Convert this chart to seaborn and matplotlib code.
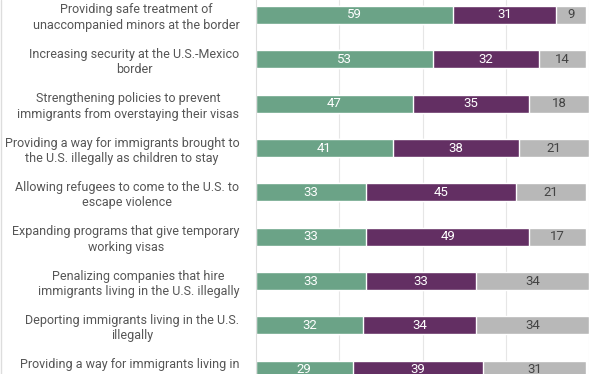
# stacked horizontal bars of immigration policy priorities, drawn with seaborn
import matplotlib
matplotlib.use("Agg")
import matplotlib.pyplot as plt
from matplotlib.lines import Line2D
import seaborn as sns
import pandas as pd

policies = [
    "Providing safe treatment of\nunaccompanied minors at the border",
    "Increasing security at the U.S.-Mexico\nborder",
    "Strengthening policies to prevent\nimmigrants from overstaying their visas",
    "Providing a way for immigrants brought to\nthe U.S. illegally as children to stay",
    "Allowing refugees to come to the U.S. to\nescape violence",
    "Expanding programs that give temporary\nworking visas",
    "Penalizing companies that hire\nimmigrants living in the U.S. illegally",
    "Deporting immigrants living in the U.S.\nillegally",
    "Providing a way for immigrants living in\nthe U.S. illegally to stay legally",
]
first = [59, 53, 47, 41, 33, 33, 33, 32, 29]
second = [31, 32, 35, 38, 45, 49, 33, 34, 39]
third = [9, 14, 18, 21, 21, 17, 34, 34, 31]

green = "#6ba387"
purple = "#632f63"
grey = "#b8b8b8"

df = pd.DataFrame({"policy": policies, "a": first, "b": second, "c": third})
df["ab"] = df["a"] + df["b"]
df["abc"] = df["ab"] + df["c"]

sns.set_style("white")
plt.rcParams["font.family"] = ["Roboto", "DejaVu Sans"]

fig = plt.figure(figsize=(6.12, 3.74), dpi=100)
ax = fig.add_axes([256 / 612, 0, 333.3 / 612, 1])

# overlapping cumulative bars give the stacked look
bh = 0.406
sns.barplot(x="abc", y="policy", data=df, orient="h", color=grey, width=bh,
            saturation=1, ax=ax)
sns.barplot(x="ab", y="policy", data=df, orient="h", color=purple, width=bh,
            saturation=1, ax=ax)
sns.barplot(x="a", y="policy", data=df, orient="h", color=green, width=bh,
            saturation=1, ax=ax)

for i, row in df.iterrows():
    ax.text(row["a"] / 2, i, str(row["a"]), ha="center", va="center",
            color="white", fontsize=9.5)
    ax.text(row["a"] + row["b"] / 2, i, str(row["b"]), ha="center", va="center",
            color="white", fontsize=9.5)
    ax.text(row["ab"] + row["c"] / 2, i, str(row["c"]), ha="center", va="center",
            color="#444444", fontsize=9.5)

ax.set_xlim(0, 100)
ax.set_ylim(8.097, -0.338)
ax.set_xticks([25, 50, 75, 100])
ax.xaxis.grid(True, color="#e6e6e6", linewidth=0.8)
ax.set_axisbelow(True)
ax.tick_params(axis="x", bottom=False, labelbottom=False)
ax.tick_params(axis="y", left=False, pad=8.5, labelsize=9, labelcolor="#555555")
for lab in ax.get_yticklabels():
    lab.set_multialignment("center")
    lab.set_linespacing(1.25)
ax.set_xlabel("")
ax.set_ylabel("")
for side in ["top", "right", "bottom"]:
    ax.spines[side].set_visible(False)
ax.spines["left"].set_color("#dddddd")
ax.spines["left"].set_linewidth(0.8)

fig.add_artist(Line2D([0.001, 0.001], [0, 1], color="#dddddd", linewidth=1,
                      transform=fig.transFigure))

fig.savefig("out.png", dpi=100)
